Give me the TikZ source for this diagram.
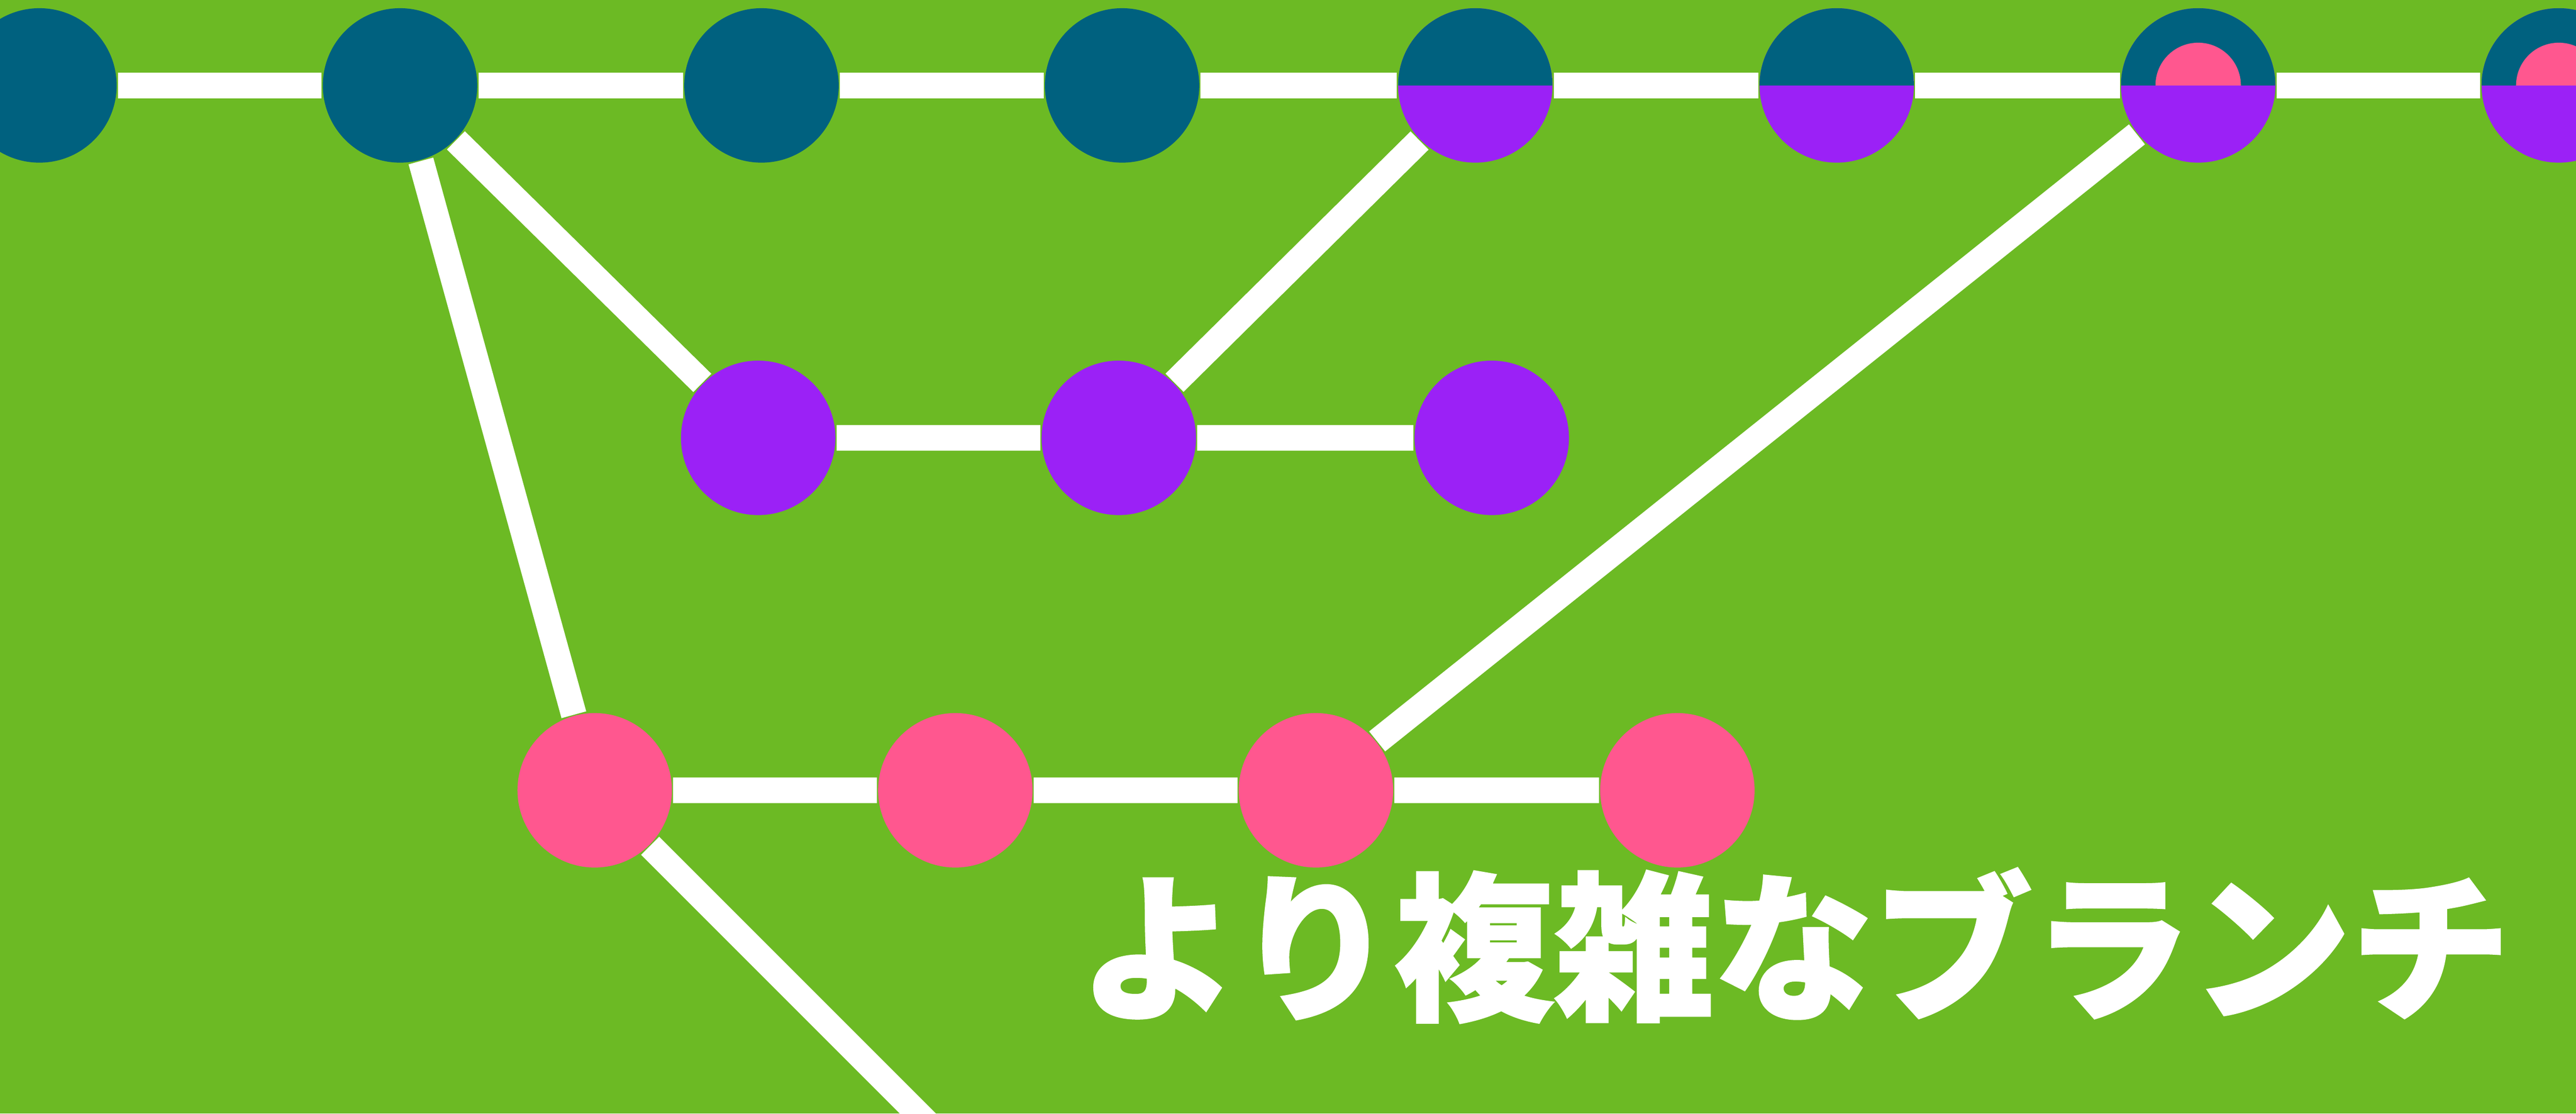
\documentclass[tikz,border=0pt]{standalone}
\usepackage{fontspec}
\newfontfamily\jpfont{Noto Sans CJK JP}[BoldFeatures={FakeBold=1.3}]
\usetikzlibrary{backgrounds}
\definecolor{bggreen}{RGB}{108,186,36}
\definecolor{mainteal}{RGB}{0,97,127}
\definecolor{featpurple}{RGB}{155,33,246}
\definecolor{topicpink}{RGB}{255,87,143}

\begin{document}
\begin{tikzpicture}[
        commit/.style={circle,fill=#1,minimum size=0.94cm,inner sep=0pt},
        halfcommit/.style={commit=featpurple,path picture={
            \fill[mainteal] (path picture bounding box.west) rectangle (path picture bounding box.north east);}},
        pinkcommit/.style={commit=featpurple,path picture={
            \fill[mainteal] (path picture bounding box.west) rectangle (path picture bounding box.north east);
            \fill[topicpink] ([xshift=-0.26cm]path picture bounding box.center) arc[start angle=180,end angle=0,radius=0.26cm] -- cycle;}},
        branch/.style={white,line width=0.156cm},
    ]
        \useasboundingbox (0,0) rectangle (15.68,-6.777);

        % commits
        \foreach \i/\x in {1/0.24,2/2.435,3/4.635,4/6.83}
            \node[commit=mainteal] (m\i) at (\x,-0.52) {};
        \foreach \i/\x in {5/8.98,6/11.18}
            \node[halfcommit] (m\i) at (\x,-0.52) {};
        \foreach \i/\x in {7/13.38,8/15.575}
            \node[pinkcommit] (m\i) at (\x,-0.52) {};
        \foreach \i/\x in {1/4.615,2/6.81,3/9.08}
            \node[commit=featpurple] (f\i) at (\x,-2.665) {};
        \foreach \i/\x in {1/3.62,2/5.815,3/8.01,4/10.21}
            \node[commit=topicpink] (b\i) at (\x,-4.81) {};
        \coordinate (tail) at (6.12,-7.31);

        % branches
        \begin{pgfonlayer}{background}
            \fill[bggreen] (0,0) rectangle (15.68,-6.777);
            \draw[branch] (m1) -- (m2) -- (m3) -- (m4) -- (m5) -- (m6) -- (m7) -- (m8);
            \draw[branch] (m2) -- (f1) -- (f2) -- (f3);
            \draw[branch] (f2) -- (m5);
            \draw[branch] (m2) -- (b1) -- (b2) -- (b3) -- (b4);
            \draw[branch] (b3) -- (m7);
            \draw[branch] (b1) -- (tail);
        \end{pgfonlayer}

        \node[white,inner sep=0pt,font=\jpfont\bfseries\fontsize{27.6}{30}\selectfont] (title) at (10.925,-5.755) {より複雑なブランチ};
    \end{tikzpicture}
\end{document}
